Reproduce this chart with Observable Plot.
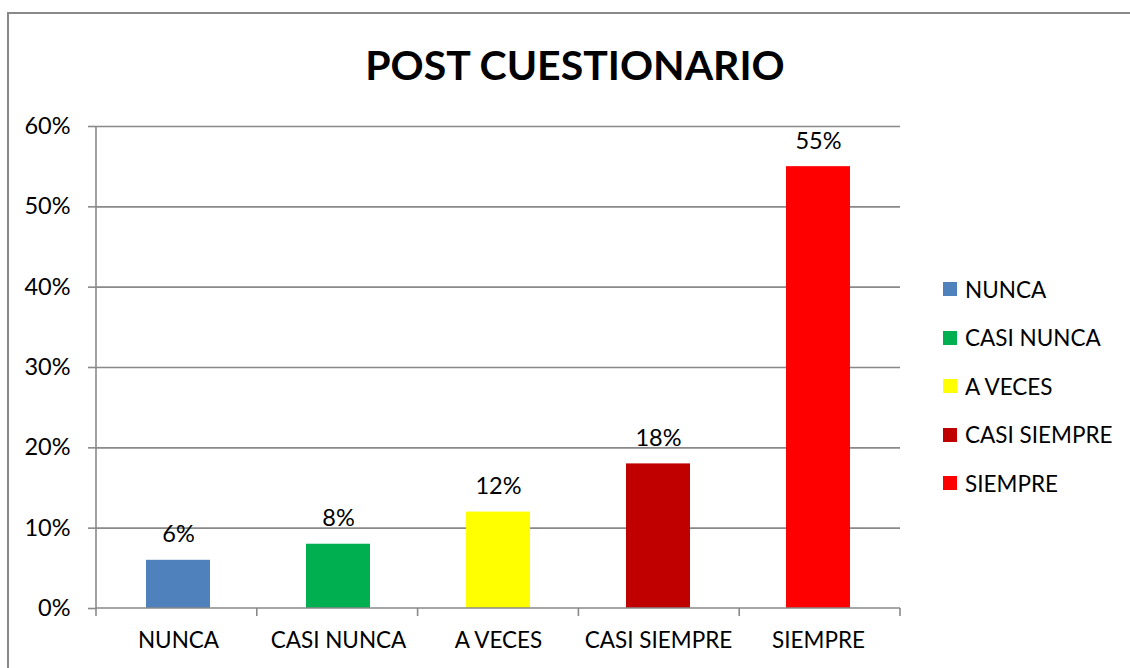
<!DOCTYPE html>
<html>
<head>
<meta charset="utf-8">
<script src="https://cdn.jsdelivr.net/npm/d3@7"></script>
<script src="https://cdn.jsdelivr.net/npm/@observablehq/plot@0.6"></script>
<style>
  html, body { margin: 0; padding: 0; background: #fff; }
  #wrap { position: relative; width: 1130px; height: 668px; overflow: hidden; font-family: Lato, "Open Sans", sans-serif; color: #000; }
  #border { position: absolute; left: 7px; top: 12px; width: 1200px; height: 720px; border: 2px solid #898989; box-sizing: border-box; }
  #title { position: absolute; left: 0; width: 1150px; top: 38px; text-align: center; font-weight: bold; font-size: 41px; line-height: 54px; }
  #chart { position: absolute; left: 0; top: 0; }
  .lg { position: absolute; left: 943px; height: 30px; display: flex; align-items: center; font-size: 22.5px; white-space: nowrap; }
  .lg span.sw { display: inline-block; width: 14px; height: 14px; margin-right: 8px; }
</style>
</head>
<body>
<div id="wrap">
  <div id="border"></div>
  <div id="title">POST CUESTIONARIO</div>
  <div id="chart"></div>
  <div id="legend"></div>
</div>
<script>
const title = "POST CUESTIONARIO";
const categories = ["NUNCA", "CASI NUNCA", "A VECES", "CASI SIEMPRE", "SIEMPRE"];
const values = [0.06, 0.08, 0.12, 0.18, 0.55];
const colors = ["#4f81bd", "#00b050", "#ffff00", "#c00000", "#ff0000"];
const yTicks = [0, 0.1, 0.2, 0.3, 0.4, 0.5, 0.6];

const data = categories.map((c, i) => ({cat: c, value: values[i]}));
const pct = d3.format(".0%");
const axisColor = "#898989";

// axis lines and category boundary ticks drawn from the band scale
function axisLines(index, scales, values, dims) {
  const g = d3.create("svg:g").attr("stroke", axisColor).attr("stroke-width", 1.6).attr("fill", "none");
  const x0 = dims.marginLeft, x1 = dims.width - dims.marginRight;
  const yb = scales.y(0), yt = scales.y(d3.max(yTicks));
  g.append("line").attr("x1", x0).attr("x2", x0).attr("y1", yt).attr("y2", yb + 8);
  g.append("line").attr("x1", x0).attr("x2", x1).attr("y1", yb).attr("y2", yb);
  const step = (x1 - x0) / categories.length;
  for (let k = 1; k <= categories.length; k++) {
    const xx = x0 + k * step;
    g.append("line").attr("x1", xx).attr("x2", xx).attr("y1", yb).attr("y2", yb + 8);
  }
  return g.node();
}

const plot = Plot.plot({
  width: 1130,
  height: 668,
  marginLeft: 96,
  marginRight: 230,
  marginTop: 126,
  marginBottom: 60,
  style: {fontFamily: "Lato, 'Open Sans', sans-serif", color: "#000", background: "transparent"},
  x: {domain: categories, paddingInner: 0.6, paddingOuter: 0.3, label: null},
  y: {domain: [0, 0.6], label: null},
  color: {domain: categories, range: colors},
  marks: [
    Plot.ruleY(yTicks.slice(1), {stroke: axisColor, strokeWidth: 1.6}),
    Plot.barY(data, {x: "cat", y: "value", fill: "cat"}),
    Plot.text(data, {x: "cat", y: "value", text: d => pct(d.value), lineAnchor: "bottom", dy: -18, fontSize: 23.5, fill: "#000"}),
    Plot.axisY({ticks: yTicks, tickFormat: pct, tickSize: 8, tickPadding: 18, fontSize: 23.5, stroke: axisColor, strokeWidth: 1.6, strokeOpacity: 1, label: null}),
    Plot.axisX({tickSize: 0, tickPadding: 24, fontSize: 22.5, label: null}),
    axisLines
  ]
});
document.getElementById("chart").appendChild(plot);

const legend = document.getElementById("legend");
categories.forEach((c, i) => {
  const row = document.createElement("div");
  row.className = "lg";
  row.style.top = (274 + i * 48.5) + "px";
  const sw = document.createElement("span");
  sw.className = "sw";
  sw.style.background = colors[i];
  row.appendChild(sw);
  row.appendChild(document.createTextNode(c));
  legend.appendChild(row);
});
</script>
</body>
</html>
